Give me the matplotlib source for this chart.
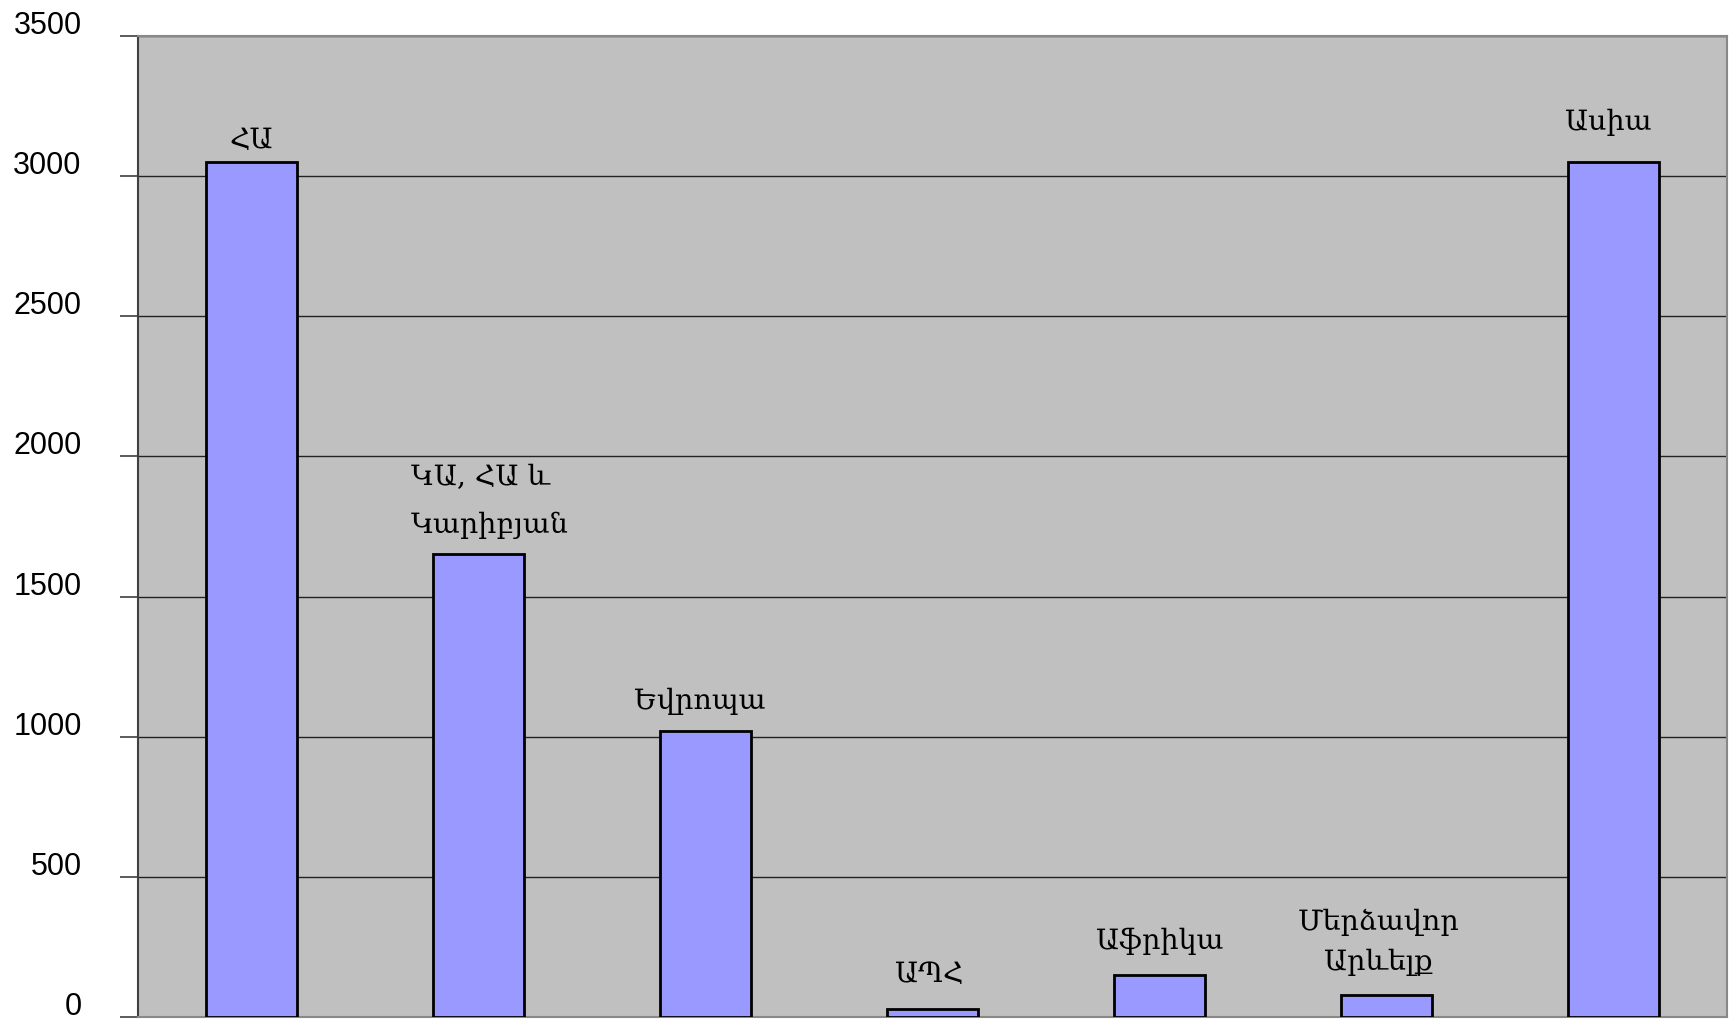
import matplotlib
matplotlib.use("Agg")
import matplotlib.pyplot as plt
import matplotlib.transforms as mtransforms

# regions and values
regions = ["ՀԱ", "ԿԱ, ՀԱ և\nԿարիբյան", "Եվրոպա", "ԱՊՀ", "Աֆրիկա", "Մերձավոր\nԱրևելք", "Ասիա"]
values = [3050, 1650, 1020, 30, 150, 80, 3050]
y_ticks = [0, 500, 1000, 1500, 2000, 2500, 3000, 3500]

fig = plt.figure(figsize=(17.33, 10.19), dpi=100)
ax = fig.add_axes([0.0796, 0.002, 0.917, 0.9627])
ax.set_facecolor("#c0c0c0")

x = list(range(len(regions)))
bars = ax.bar(x, values, width=0.4, color="#9999ff", edgecolor="black", linewidth=2, zorder=3)

ax.set_xlim(-0.5, len(regions) - 0.5)
ax.set_ylim(0, 3500)
ax.set_yticks(y_ticks)
ax.set_yticklabels([str(t) for t in y_ticks], fontsize=22, family="Liberation Sans")
ax.set_xticks([])
ax.tick_params(axis="y", length=13, width=1.2, color="#404040", pad=27.5)
ax.grid(axis="y", color="#222222", linewidth=1, zorder=1)

# labels sit a bit above their ticks in the original
offset = mtransforms.ScaledTranslation(0, 0.135, fig.dpi_scale_trans)
for lab in ax.get_yticklabels():
    lab.set_transform(lab.get_transform() + offset)

for side in ["top", "right", "bottom"]:
    ax.spines[side].set_color("#888888")
    ax.spines[side].set_linewidth(1.5)
ax.spines["left"].set_color("#404040")
ax.spines["left"].set_linewidth(1.5)

# text above each bar (the original placement is a bit uneven)
nudges = [(0, 5.5), (8, 11.5), (-4, 11.5), (-2, 14.5), (0, 14), (-6, 13), (-4, 18.5)]
for i, (name, val) in enumerate(zip(regions, values)):
    dx, dy = nudges[i]
    if "Կարիբյան" in name:
        align, spacing = "left", 1.95
    else:
        align, spacing = "center", 1.6
    ax.annotate(name, (i, val), xytext=(dx, dy), textcoords="offset points",
                ha="center", va="bottom", fontsize=20.5, family="DejaVu Serif",
                multialignment=align, linespacing=spacing)

fig.savefig("out.png", dpi=100)
